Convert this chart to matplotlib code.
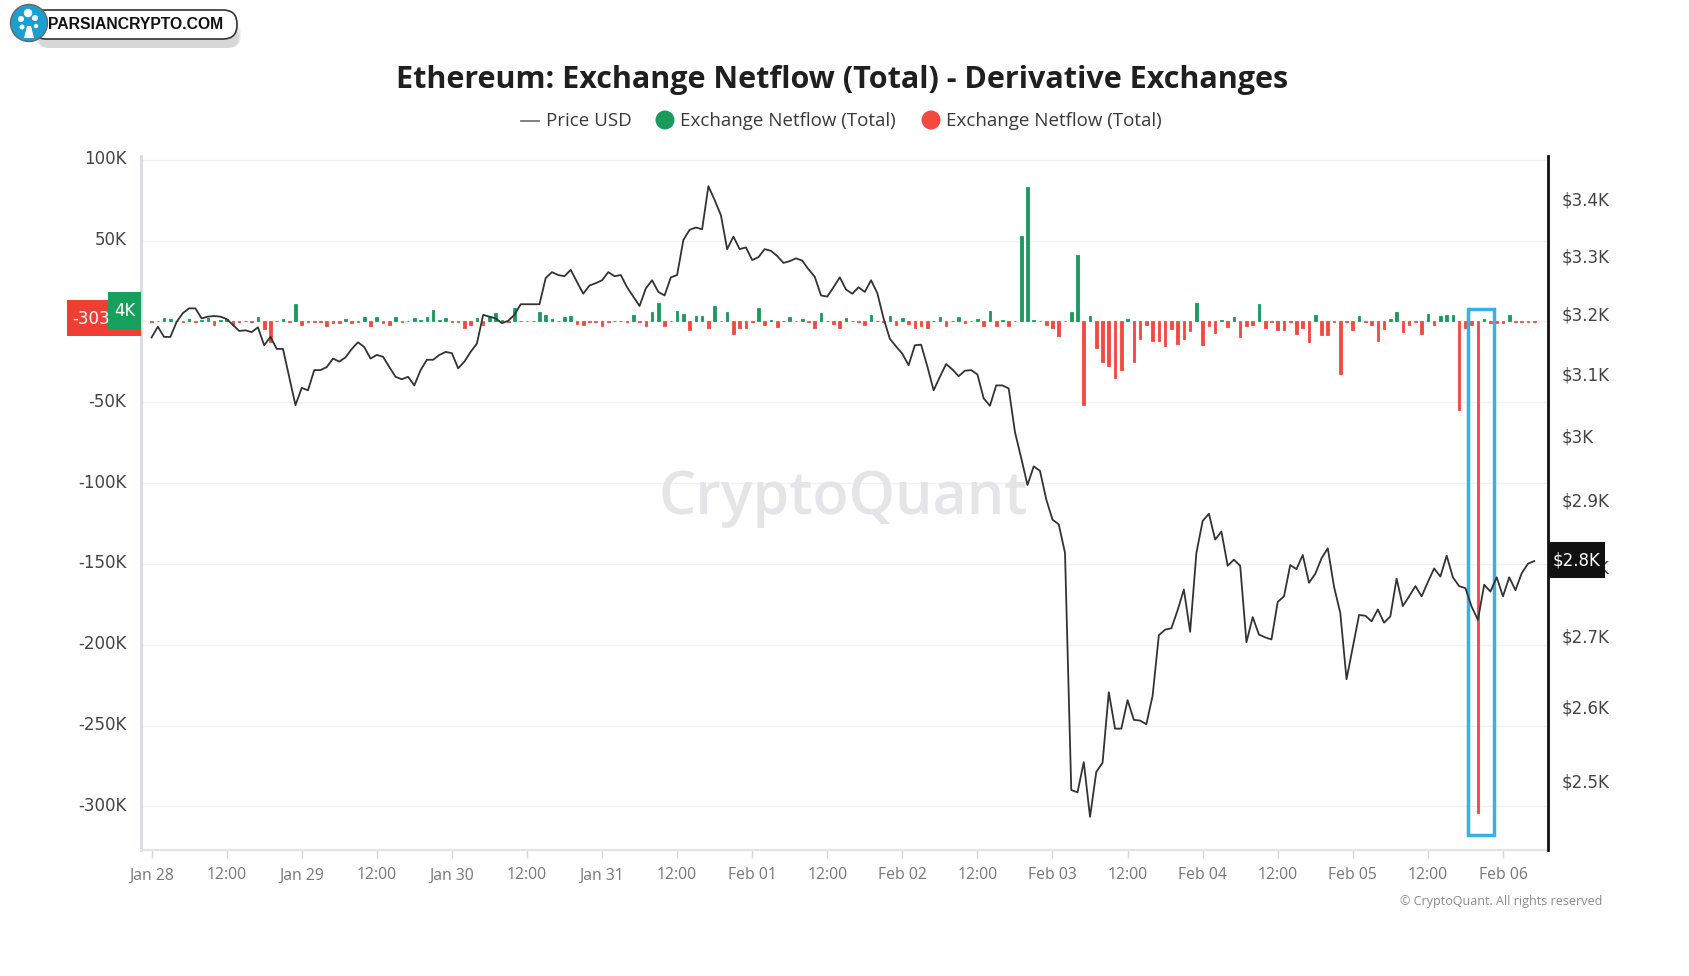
import numpy as np
import pandas as pd
import matplotlib
matplotlib.use("Agg")
import matplotlib.pyplot as plt
from matplotlib.patches import Rectangle, FancyBboxPatch, Circle, Polygon
from matplotlib.lines import Line2D
from matplotlib.ticker import NullLocator, NullFormatter
from matplotlib.transforms import ScaledTranslation

# ---------------- data ----------------
price_usd = [
    3160, 3178, 3161, 3161, 3186, 3201, 3209, 3209, 3192, 3195,
    3196, 3195, 3191, 3181, 3171, 3172, 3169, 3177, 3147, 3161,
    3141, 3141, 3095, 3049, 3077, 3073, 3106, 3106, 3111, 3125,
    3120, 3127, 3141, 3152, 3144, 3125, 3131, 3128, 3111, 3095,
    3091, 3095, 3081, 3106, 3123, 3123, 3131, 3136, 3134, 3109,
    3120, 3136, 3150, 3198, 3195, 3192, 3184, 3188, 3198, 3216,
    3216, 3216, 3216, 3261, 3271, 3266, 3264, 3275, 3254, 3234,
    3248, 3252, 3257, 3271, 3264, 3266, 3245, 3229, 3213, 3243,
    3257, 3237, 3231, 3262, 3266, 3327, 3345, 3349, 3346, 3423,
    3398, 3371, 3311, 3333, 3311, 3314, 3292, 3297, 3311, 3308,
    3299, 3287, 3290, 3295, 3291, 3276, 3263, 3231, 3229, 3245,
    3262, 3241, 3234, 3245, 3237, 3257, 3235, 3192, 3158, 3145,
    3133, 3114, 3147, 3148, 3112, 3073, 3095, 3116, 3107, 3096,
    3105, 3106, 3099, 3060, 3048, 3081, 3081, 3076, 3006, 2965,
    2923, 2952, 2945, 2901, 2870, 2863, 2820, 2488, 2485, 2525,
    2453, 2512, 2524, 2620, 2570, 2570, 2609, 2582, 2581, 2576,
    2615, 2700, 2708, 2710, 2736, 2766, 2705, 2820, 2868, 2879,
    2840, 2852, 2801, 2810, 2801, 2690, 2726, 2701, 2697, 2694,
    2748, 2756, 2802, 2796, 2817, 2776, 2789, 2812, 2827, 2770,
    2732, 2638, 2683, 2729, 2728, 2720, 2737, 2718, 2727, 2782,
    2742, 2756, 2771, 2756, 2777, 2797, 2785, 2816, 2784, 2771,
    2768, 2741, 2722, 2773, 2763, 2784, 2756, 2784, 2765, 2790,
    2804, 2808,
]

netflow = [
    -400, 500, 1900, 1500, 300, -300, 1500, -500, 1000, 2000,
    -2500, 1000, 1500, -2000, -300, 300, -300, 2500, -5000, -13000,
    300, 1500, -500, 11000, -2500, -500, -400, -500, -3000, -1000,
    -1000, 1500, -1000, -300, 2500, -3000, 3000, -1000, -2000, 2500,
    -400, 400, 2000, 1000, 3000, 7000, 1000, 2000, -500, -500,
    -4000, -2500, 2000, -2500, 3500, 5000, 1000, -400, 8000, 300,
    500, 300, 6000, 4000, 1500, 300, 3000, 3500, -1500, -2500,
    -400, -400, -3000, -300, 300, 300, -300, 3900, -500, -3000,
    6000, 11300, -2700, 300, 6600, 4500, -5100, 3500, 3500, -4300,
    9300, 300, 5600, -7800, -4100, -4100, -300, 8000, -2000, 600,
    -3700, 300, 3000, 300, 1200, -300, -4300, 5000, 300, -1600,
    -4300, 1900, 300, -300, -2300, 4100, 300, -300, 3500, -2300,
    1900, -1900, -4300, -2700, -4300, 400, 2500, -2700, 300, 3000,
    -700, 300, 1200, -2700, 6600, -2700, 800, -2700, 300, 53000,
    83400, 600, 400, -2300, -4300, -8900, 300, 6000, 41000, -51500,
    3300, -16500, -25300, -27400, -35000, -30300, 1400, -25300, -10900, -2000,
    -12400, -12000, -15500, -4700, -13800, -10900, -6200, 11300, -14400, -2700,
    -7200, 600, -3500, 2700, -9700, -2700, -2000, 10900, -4100, -600,
    -5200, -5600, -600, -7600, -4100, -13000, 4100, -8200, -8200, -600,
    -32300, -400, -5600, 3500, -500, -2000, -12400, -4700, 1500, 5600,
    -6800, -2000, -300, -7600, 4700, -2000, 3100, 4100, 4100, -54600,
    -4000, -2000, -304000, 1400, -800, -800, -800, 4100, -300, -500,
    -300, -500,
]

start_time = "2025-01-28 00:00"
x_tick_labels = ["Jan 28", "12:00", "Jan 29", "12:00", "Jan 30", "12:00", "Jan 31", "12:00",
                 "Feb 01", "12:00", "Feb 02", "12:00", "Feb 03", "12:00", "Feb 04", "12:00",
                 "Feb 05", "12:00", "Feb 06"]
left_ticks = [100000, 50000, 0, -50000, -100000, -150000, -200000, -250000, -300000]
left_tick_labels = ["100K", "50K", "0", "-50K", "-100K", "-150K", "-200K", "-250K", "-300K"]
right_ticks = [2500, 2600, 2700, 2800, 2900, 3000, 3100, 3200, 3300, 3400]
right_tick_labels = ["$2.5K", "$2.6K", "$2.7K", "$2.8K", "$2.9K", "$3K", "$3.1K", "$3.2K", "$3.3K", "$3.4K"]
last_red_label = "-303"
last_green_label = "4K"
last_price_label = "$2.8K"

# ---------------- figure ----------------
W, H = 1689, 976
fig = plt.figure(figsize=(W / 100, H / 100), dpi=100)
fig.patch.set_facecolor("white")

L, R, T, B = 141, 1548, 156, 850
ax = fig.add_axes([L / W, 1 - B / H, (R - L) / W, (B - T) / H])

times = pd.date_range(start_time, periods=len(price_usd), freq="h")
hour = pd.Timedelta(hours=1)
GREEN = "#1a9a5c"
RED = "#f4493e"

colors = [GREEN if v >= 0 else RED for v in netflow]
ax.bar(times, netflow, width=0.42 / 24, color=colors, edgecolor=colors, linewidth=0.6, zorder=3)

ax.set_ylim(-327000, 102300)
ax.set_xlim(times[0] - 1.69 * hour, times[0] + 223.2 * hour)
ax.set_yticks(left_ticks)
ax.set_yticklabels(left_tick_labels)
tick_times = pd.date_range(start_time, periods=len(x_tick_labels), freq="12h")
ax.set_xticks(tick_times)
ax.set_xticklabels(x_tick_labels)
ax.grid(axis="y", color="#f1f1f1", lw=1.0, zorder=0)
ax.set_axisbelow(True)

for s in ["top", "right"]:
    ax.spines[s].set_visible(False)
ax.spines["left"].set_color("#d8d9e2")
ax.spines["left"].set_linewidth(2)
ax.spines["bottom"].set_color("#e3e3e3")
ax.spines["bottom"].set_linewidth(1.5)
ax.tick_params(axis="y", length=0, pad=10.5, labelsize=12, labelcolor="#444444")
ax.tick_params(axis="x", length=6, width=1, color="#d5d5d5", pad=6.5, labelsize=11.3, labelcolor="#777777")
for lbl in ax.get_xticklabels():
    lbl.set_fontfamily("Open Sans")
up = ScaledTranslation(0, 2.5 / 100, fig.dpi_scale_trans)
for lbl in ax.get_yticklabels():
    lbl.set_transform(lbl.get_transform() + up)

# watermark
ax.text(843 / W, 1 - 498 / H, "CryptoQuant", transform=fig.transFigure, ha="center", va="center",
        fontsize=42.5, color="#e5e5e9", family="Open Sans", weight="semibold", zorder=1)

# highlight box around the largest outflow
imin = int(np.argmin(netflow))
box_x0 = times[imin] - 1.6 * hour
ax.add_patch(Rectangle((box_x0, -318000), 4.1 * hour, 325700, fill=False,
                       ec="#35b2ee", lw=2.5, zorder=5))

# price on log right axis
ax2 = ax.twinx()
ax2.plot(times, price_usd, color="#333333", lw=1.3, zorder=4)
ax2.set_yscale("log")
ax2.set_ylim(2410.4, 3478)
ax2.yaxis.set_minor_locator(NullLocator())
ax2.yaxis.set_minor_formatter(NullFormatter())
ax2.set_yticks(right_ticks)
ax2.set_yticklabels(right_tick_labels)
ax2.tick_params(axis="y", length=0, pad=9.5, labelsize=12, labelcolor="#444444")
for s in ["top", "left", "bottom"]:
    ax2.spines[s].set_visible(False)
ax2.spines["right"].set_color("#111111")
ax2.spines["right"].set_linewidth(2)

# ---------------- overlay (pixel coords) ----------------
ov = fig.add_axes([0, 0, 1, 1], zorder=10)
ov.set_xlim(0, W)
ov.set_ylim(H, 0)
ov.axis("off")
ov.patch.set_alpha(0)

# title
ov.text(842, 80, "Ethereum: Exchange Netflow (Total) - Derivative Exchanges", ha="center", va="center",
        fontsize=22, weight="bold", family="Open Sans", color="#1f1f1f")

# legend
ov.add_line(Line2D([521, 539], [121, 121], color="#777777", lw=1.3))
ov.text(546, 121, "Price USD", ha="left", va="center", fontsize=13.5, family="Open Sans", color="#3a3a3a")
ov.add_patch(Circle((665, 120), 9.5, fc=GREEN, ec="none"))
ov.text(680, 121, "Exchange Netflow (Total)", ha="left", va="center", fontsize=13.5,
        family="Open Sans", color="#3a3a3a")
ov.add_patch(Circle((931, 120), 9.5, fc=RED, ec="none"))
ov.text(946, 121, "Exchange Netflow (Total)", ha="left", va="center", fontsize=13.5,
        family="Open Sans", color="#3a3a3a")

# current value labels on the left axis
ov.add_patch(Rectangle((67, 300), 74, 36, fc="#f03e33", ec="none"))
ov.text(72, 319, last_red_label, ha="left", va="center", fontsize=12, color="white")
ov.add_patch(Rectangle((108, 292), 33, 37, fc="#17a05d", ec="none"))
ov.text(124.5, 311, last_green_label, ha="center", va="center", fontsize=12, color="white")

# current price label on the right axis
ov.add_patch(Rectangle((1548, 542), 57, 36, fc="#111111", ec="none"))
ov.text(1576.5, 561, last_price_label, ha="center", va="center", fontsize=12, color="white")

# copyright
ov.text(1602, 902, "\u00a9 CryptoQuant. All rights reserved", ha="right", va="center", fontsize=9,
        family="Open Sans", color="#8a8a8a")

# logo
for i, a in enumerate([0.10, 0.12, 0.14]):
    ov.add_patch(FancyBboxPatch((36 + i, 22 + i * 2), 205 - 2 * i, 26 - 2 * i,
                                boxstyle="round,pad=0,rounding_size=12", fc="#888888", ec="none", alpha=a))
ov.add_patch(FancyBboxPatch((32, 10), 205, 29, boxstyle="round,pad=0,rounding_size=14",
                            fc="white", ec="#333333", lw=1.2))
ov.add_patch(Circle((29, 23), 18.5, fc="#1b9fd1", ec="#666666", lw=1.0))
ov.add_patch(Polygon([[24, 38], [34, 38], [31, 26], [27, 26]], closed=True, fc="white", ec="none"))
for (cx, cy, r) in [(28, 13, 4.2), (35, 18, 3.0), (21, 19, 3.0), (22, 27, 2.5), (36, 26, 2.2)]:
    ov.add_patch(Circle((cx, cy), r, fc="white", ec="none"))
ov.text(48, 24.5, "PARSIANCRYPTO.COM", ha="left", va="center", fontsize=11.3, weight="bold",
        family="Liberation Sans", color="#111111")

fig.savefig("out.png", dpi=100, facecolor="white")
